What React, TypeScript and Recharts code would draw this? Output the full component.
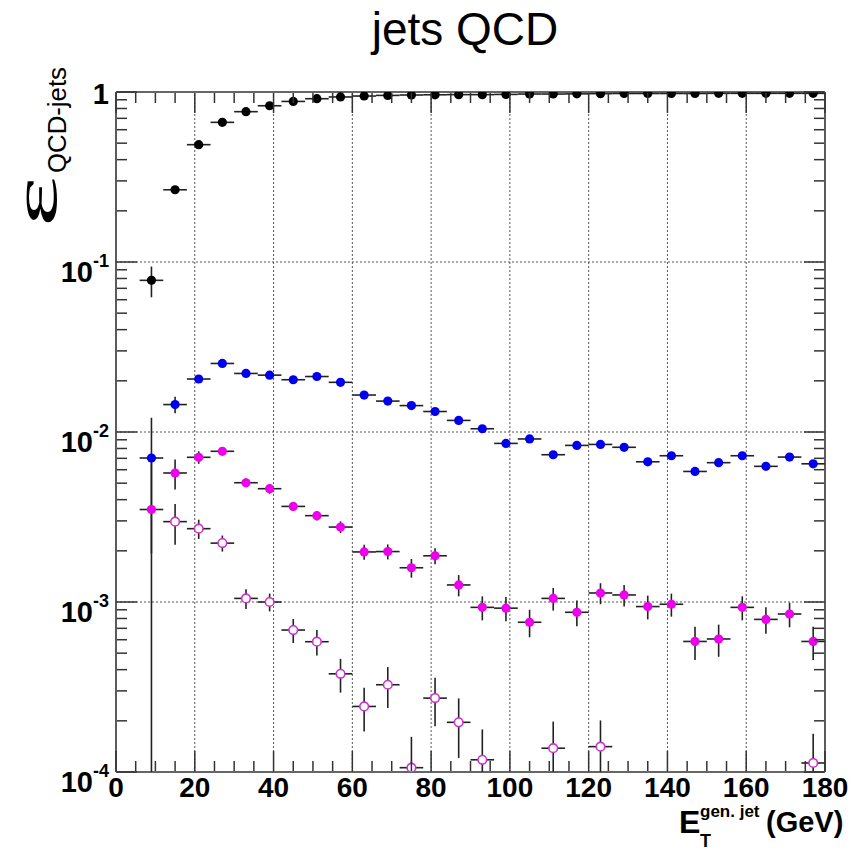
import React from "react";
import {
  ScatterChart,
  Scatter,
  XAxis,
  YAxis,
  ErrorBar,
  ReferenceLine,
} from "recharts";

// bin centres (GeV), bins are 6 GeV wide
const binCenters = [9, 15, 21, 27, 33, 39, 45, 51, 57, 63, 69, 75, 81, 87, 93, 99, 105, 111, 117, 123, 129, 135, 141, 147, 153, 159, 165, 171, 177];

const blackEff = [0.078, 0.266, 0.49, 0.663, 0.766, 0.83, 0.88, 0.913, 0.935, 0.947, 0.955, 0.96, 0.963, 0.965, 0.965, 0.968, 0.973, 0.973, 0.975, 0.978, 0.98, 0.98, 0.98, 0.98, 0.982, 0.982, 0.982, 0.982, 0.982];
const blackErr = [0.016, 0.006, 0.008, 0.007, 0.006, 0.005, 0.004, 0.003, 0.003, 0.002, 0.002, 0.002, 0.002, 0.002, 0.002, 0.002, 0.002, 0.002, 0.002, 0.002, 0.002, 0.002, 0.002, 0.002, 0.002, 0.002, 0.002, 0.002, 0.002];

const blueEff = [0.00703, 0.0145, 0.0205, 0.0253, 0.0221, 0.0216, 0.0203, 0.0212, 0.0196, 0.0165, 0.0152, 0.0143, 0.0132, 0.0117, 0.01045, 0.00857, 0.0091, 0.00735, 0.00834, 0.00845, 0.00813, 0.00668, 0.00725, 0.00586, 0.0066, 0.00725, 0.00628, 0.00712, 0.0065];
const blueErr = [0.0051, 0.0016, 0.0008, 0.0007, 0.0006, 0.0006, 0.0005, 0.0005, 0.0005, 0.0004, 0.0004, 0.0004, 0.0004, 0.0004, 0.0004, 0.0003, 0.0003, 0.0003, 0.0003, 0.0003, 0.0003, 0.0003, 0.0003, 0.0003, 0.0003, 0.0003, 0.0003, 0.0003, 0.0003];

const magentaEff = [0.0035, 0.00574, 0.0071, 0.0077, 0.00503, 0.00464, 0.00365, 0.00322, 0.00276, 0.00197, 0.00198, 0.00159, 0.00187, 0.00126, 0.00093, 0.00092, 0.00076, 0.00105, 0.00087, 0.00113, 0.0011, 0.00094, 0.00097, 0.000586, 0.000606, 0.00093, 0.00079, 0.00085, 0.000586];
const magentaErr = [0.0036, 0.00115, 0.0006, 0.0003, 0.0003, 0.0003, 0.00022, 0.0002, 0.00022, 0.0002, 0.0002, 0.0002, 0.0002, 0.00018, 0.00015, 0.00015, 0.00014, 0.00016, 0.00015, 0.00016, 0.00016, 0.00015, 0.00015, 0.00013, 0.00013, 0.00015, 0.00014, 0.00014, 0.00013];

// open markers only where they fall inside the range
const openX = [15, 21, 27, 33, 39, 45, 51, 57, 63, 69, 75, 81, 87, 93, 111, 123, 177];
const openEff = [0.00297, 0.0027, 0.00222, 0.00105, 0.001, 0.000684, 0.000584, 0.000378, 0.000243, 0.000326, 0.000106, 0.000272, 0.000196, 0.000118, 0.000138, 0.000141, 0.000113];
const openErr = [0.0008, 0.00035, 0.00024, 0.00014, 0.00012, 0.00011, 0.0001, 0.000085, 0.00007, 0.000088, 0.000055, 0.000086, 0.000075, 0.00006, 0.00006, 0.00006, 0.000055];

const xMajor = [0, 20, 40, 60, 80, 100, 120, 140, 160, 180];
const yDecades = [1e-4, 1e-3, 1e-2, 1e-1, 1];
const yExponents = ["-4", "-3", "-2", "-1", ""];

const Y_MIN = 1e-4;
const HALF_BIN = 3;

const W = 851;
const H = 850;
// axes take 1px each, so plot area is 116..825 x 92..772
const M = { top: 91, right: 25, bottom: 77, left: 115 };
const FRAME = "#333";
const FONT = "'Liberation Sans', Arial, Helvetica, sans-serif";

const xTicks: number[] = [];
for (let v = 0; v <= 180; v += 5) xTicks.push(v);
const yTicks: number[] = [];
yDecades.forEach((d, i) => {
  yTicks.push(d);
  if (i < yDecades.length - 1) for (let m = 2; m <= 9; m++) yTicks.push(+(m * d).toPrecision(3));
});

function rows(xs: number[], ys: number[], errs: number[]) {
  return xs.map((x, i) => ({
    x,
    y: ys[i],
    ex: HALF_BIN,
    ey: [Math.min(errs[i], ys[i] - Y_MIN), errs[i]],
  }));
}

const blackData = rows(binCenters, blackEff, blackErr);
const blueData = rows(binCenters, blueEff, blueErr);
const magentaData = rows(binCenters, magentaEff, magentaErr);
const openData = rows(openX, openEff, openErr);

const isDecade = (v: number) => Math.abs(Math.log10(v) - Math.round(Math.log10(v))) < 1e-6;
const isMajorX = (v: number) => xMajor.includes(v);

function BottomTick(p: any) {
  const v = p.payload.value;
  const major = isMajorX(v);
  const y0 = p.y - 1;
  return (
    <g>
      <line x1={p.x} x2={p.x} y1={y0} y2={y0 - (major ? 20 : 10)} stroke={FRAME} strokeWidth={1.5} />
      {major && (
        <text x={p.x} y={y0 + 26} textAnchor="middle" fontFamily={FONT} fontWeight="bold" fontSize={28} fill="#000">
          {v}
        </text>
      )}
    </g>
  );
}

function TopTick(p: any) {
  const major = isMajorX(p.payload.value);
  const y0 = p.y + 1;
  return <line x1={p.x} x2={p.x} y1={y0} y2={y0 + (major ? 20 : 10)} stroke={FRAME} strokeWidth={1.5} />;
}

function LeftTick(p: any) {
  const v = p.payload.value;
  const major = isDecade(v);
  const idx = yDecades.findIndex((d) => Math.abs(d - v) / d < 1e-6);
  const x0 = p.x + 1;
  return (
    <g>
      <line x1={x0} x2={x0 + (major ? 20 : 10)} y1={p.y} y2={p.y} stroke={FRAME} strokeWidth={1.5} />
      {major && idx >= 0 && (
        <text x={x0 - 8} y={p.y + (yExponents[idx] ? 20 : 12)} textAnchor="end" fontFamily={FONT} fontWeight="bold" fontSize={29} fill="#000">
          {yExponents[idx] ? "10" : "1"}
          {yExponents[idx] && (
            <tspan fontSize={18} dy={-15}>
              {yExponents[idx]}
            </tspan>
          )}
        </text>
      )}
    </g>
  );
}

function RightTick(p: any) {
  const major = isDecade(p.payload.value);
  const x0 = p.x - 1;
  return <line x1={x0} x2={x0 - (major ? 20 : 10)} y1={p.y} y2={p.y} stroke={FRAME} strokeWidth={1.5} />;
}

const dot = (fill: string) => (p: any) => <circle cx={p.cx} cy={p.cy} r={4.6} fill={fill} />;
const openDot = (p: any) => <circle cx={p.cx} cy={p.cy} r={4.3} fill="#fff" stroke="#d030d0" strokeWidth={1.6} />;

const gridX = [20, 40, 60, 80, 100, 120, 140, 160];
const gridY = [1e-3, 1e-2, 1e-1];

function bars() {
  return [
    <ErrorBar key="ex" dataKey="ex" direction="x" width={0} stroke="#222" strokeWidth={1.6} />,
    <ErrorBar key="ey" dataKey="ey" direction="y" width={0} stroke="#222" strokeWidth={1.6} />,
  ];
}

const axisLine = { stroke: FRAME, strokeWidth: 1.6 };

export default function App() {
  return (
    <div style={{ position: "absolute", left: 0, top: 0, width: W, height: H, background: "#fff" }}>
      <ScatterChart width={W} height={H} margin={M}>
        <XAxis xAxisId="b" type="number" dataKey="x" domain={[0, 180]} allowDataOverflow ticks={xTicks} interval={0}
          height={1} tickSize={0} tickMargin={0} tickLine={false} tick={BottomTick} axisLine={axisLine} />
        <XAxis xAxisId="t" orientation="top" type="number" dataKey="x" domain={[0, 180]} allowDataOverflow ticks={xTicks} interval={0}
          height={1} tickSize={0} tickMargin={0} tickLine={false} tick={TopTick} axisLine={axisLine} />
        <YAxis yAxisId="l" type="number" dataKey="y" scale="log" domain={[Y_MIN, 1]} allowDataOverflow ticks={yTicks} interval={0}
          width={1} tickSize={0} tickMargin={0} tickLine={false} tick={LeftTick} axisLine={axisLine} />
        <YAxis yAxisId="r" orientation="right" type="number" dataKey="y" scale="log" domain={[Y_MIN, 1]} allowDataOverflow ticks={yTicks} interval={0}
          width={1} tickSize={0} tickMargin={0} tickLine={false} tick={RightTick} axisLine={axisLine} />
        {gridX.map((g) => (
          <ReferenceLine key={"gx" + g} xAxisId="b" yAxisId="l" x={g} stroke="#555" strokeWidth={1} strokeDasharray="2 2" />
        ))}
        {gridY.map((g) => (
          <ReferenceLine key={"gy" + g} xAxisId="b" yAxisId="l" y={g} stroke="#555" strokeWidth={1} strokeDasharray="2 2" />
        ))}
        <Scatter xAxisId="b" yAxisId="l" data={blackData} shape={dot("#000")} isAnimationActive={false}>
          {bars()}
        </Scatter>
        <Scatter xAxisId="b" yAxisId="l" data={blueData} shape={dot("#0000ee")} isAnimationActive={false}>
          {bars()}
        </Scatter>
        <Scatter xAxisId="b" yAxisId="l" data={magentaData} shape={dot("#ee00ee")} isAnimationActive={false}>
          {bars()}
        </Scatter>
        <Scatter xAxisId="b" yAxisId="l" data={openData} shape={openDot} isAnimationActive={false}>
          {bars()}
        </Scatter>
      </ScatterChart>
      <svg width={W} height={H} style={{ position: "absolute", left: 0, top: 0, pointerEvents: "none" }}>
        <text x={465} y={45} textAnchor="middle" fontFamily={FONT} fontSize={46} fill="#000">
          jets QCD
        </text>
        <text transform="translate(56,227) rotate(-90) scale(1.9,1)" fontFamily="'Liberation Serif', serif" fontSize={64} fill="#000">
          ε
        </text>
        <text transform="translate(66,173) rotate(-90)" fontFamily={FONT} fontSize={26} textLength={106} lengthAdjust="spacingAndGlyphs" fill="#000">
          QCD-jets
        </text>
        <text x={679} y={833} fontFamily={FONT} fontWeight="bold" fontSize={32} fill="#000">
          E
        </text>
        <text x={700} y={817} fontFamily={FONT} fontWeight="bold" fontSize={17} fill="#000">
          gen. jet
        </text>
        <text x={700} y={847} fontFamily={FONT} fontWeight="bold" fontSize={18} fill="#000">
          T
        </text>
        <text x={766} y={832} fontFamily={FONT} fontWeight="bold" fontSize={29} fill="#000">
          (GeV)
        </text>
      </svg>
    </div>
  );
}
